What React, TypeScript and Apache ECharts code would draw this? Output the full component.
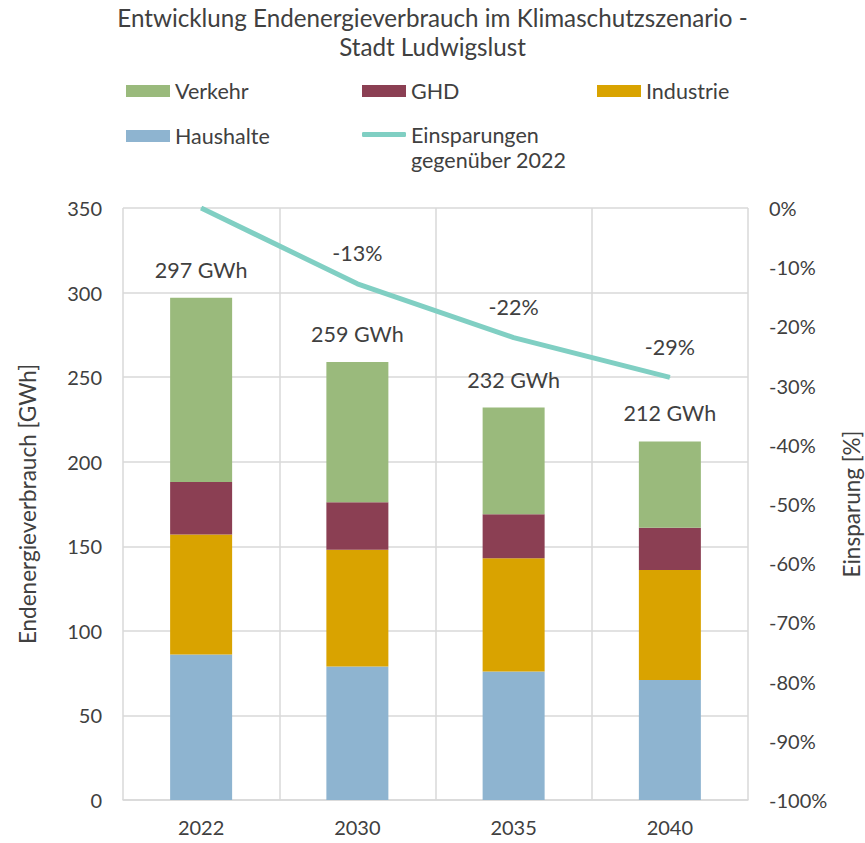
import React, { useEffect, useRef } from "react";
import * as echarts from "echarts";

const categories = ["2022", "2030", "2035", "2040"];
const haushalte = [86, 79, 76, 71];
const industrie = [71, 69, 67, 65];
const ghd = [31, 28, 26, 25];
const verkehr = [109, 83, 63, 51];
const totals = [297, 259, 232, 212];
const savings = [0, -12.8, -21.9, -28.6];
const savingsLabels = ["", "-13%", "-22%", "-29%"];

const FONT = "Lato";
const TXT = "#404040";
const GRID = "#d9d9d9";
const C_VERKEHR = "#9aba7c";
const C_GHD = "#8b3f53";
const C_IND = "#d9a300";
const C_HH = "#8eb4d0";
const C_LINE = "#80cfc3";

export default function App() {
  const ref = useRef<HTMLDivElement>(null);
  useEffect(() => {
    document.body.style.margin = "0";
    if (!ref.current) return;
    const chart = echarts.init(ref.current, null, { renderer: "svg" });
    const legendText = { fontFamily: FONT, fontSize: 21.5, color: TXT, lineHeight: 24 };
    const mkLegend = (name: string, left: number, top: number) => ({
      show: true,
      data: [name],
      left,
      top,
      itemWidth: 44,
      itemHeight: 12,
      itemGap: 0,
      padding: 0,
      icon: "rect",
      selectedMode: false,
      textStyle: legendText,
    });
    chart.setOption({
      animation: false,
      textStyle: { fontFamily: FONT },
      title: {
        text: "Entwicklung Endenergieverbrauch im Klimaschutzszenario -\nStadt Ludwigslust",
        left: "center",
        top: 3,
        padding: [0, 0, 0, 15],
        textStyle: { fontFamily: FONT, fontSize: 24.2, fontWeight: "normal", color: TXT, lineHeight: 29 },
      },
      legend: [
        mkLegend("Verkehr", 126, 79),
        mkLegend("GHD", 362, 79),
        mkLegend("Industrie", 597, 79),
        mkLegend("Haushalte", 126, 124),
        {
          show: true,
          data: [{ name: "Einsparungen gegenüber 2022", icon: "roundRect" }],
          left: 362,
          top: 97,
          itemWidth: 44,
          itemHeight: 5,
          padding: 0,
          selectedMode: false,
          formatter: () => "\nEinsparungen\ngegenüber 2022",
          textStyle: { ...legendText, lineHeight: 25 },
        },
      ],
      grid: { left: 123, right: 117, top: 208, bottom: 43, containLabel: false, outerBoundsMode: "none" },
      xAxis: {
        type: "category",
        data: categories,
        axisLine: { lineStyle: { color: GRID, width: 1.5 } },
        axisTick: { show: false },
        splitLine: { show: true, lineStyle: { color: GRID, width: 1.5 } },
        axisLabel: { fontFamily: FONT, fontSize: 20, color: TXT, margin: 17 },
      },
      yAxis: [
        {
          type: "value",
          min: 0,
          max: 350,
          interval: 50,
          name: "Endenergieverbrauch [GWh]",
          nameLocation: "middle",
          nameGap: 84,
          nameTextStyle: { fontFamily: FONT, fontSize: 22.5, color: TXT },
          axisLine: { show: false },
          axisTick: { show: false },
          splitLine: { lineStyle: { color: GRID, width: 1.5 } },
          axisLabel: { fontFamily: FONT, fontSize: 20, color: TXT, margin: 21 },
        },
        {
          type: "value",
          min: -100,
          max: 0,
          interval: 10,
          position: "right",
          name: "Einsparung [%]",
          nameLocation: "middle",
          nameGap: 92,
          nameTextStyle: { fontFamily: FONT, fontSize: 22.5, color: TXT },
          axisLine: { show: false },
          axisTick: { show: false },
          splitLine: { show: false },
          axisLabel: { fontFamily: FONT, fontSize: 20, color: TXT, margin: 21, formatter: "{value}%" },
        },
      ],
      series: [
        {
          name: "Haushalte",
          type: "bar",
          stack: "total",
          data: haushalte,
          barWidth: 62,
          itemStyle: { color: C_HH },
        },
        {
          name: "Industrie",
          type: "bar",
          stack: "total",
          data: industrie,
          itemStyle: { color: C_IND },
        },
        {
          name: "GHD",
          type: "bar",
          stack: "total",
          data: ghd,
          itemStyle: { color: C_GHD },
        },
        {
          name: "Verkehr",
          type: "bar",
          stack: "total",
          data: verkehr,
          itemStyle: { color: C_VERKEHR },
          label: {
            show: true,
            position: "top",
            distance: 17,
            fontFamily: FONT,
            fontSize: 21.5,
            color: TXT,
            formatter: (p: any) => `${totals[p.dataIndex]} GWh`,
          },
        },
        {
          name: "Einsparungen gegenüber 2022",
          type: "line",
          yAxisIndex: 1,
          data: savings,
          symbol: "circle",
          symbolSize: 1,
          itemStyle: { color: C_LINE },
          lineStyle: { color: C_LINE, width: 5 },
          label: {
            show: true,
            position: "top",
            distance: 19,
            fontFamily: FONT,
            fontSize: 21.5,
            color: TXT,
            formatter: (p: any) => savingsLabels[p.dataIndex],
          },
        },
      ],
    });
    return () => chart.dispose();
  }, []);
  return <div ref={ref} style={{ width: 865, height: 843 }} />;
}
